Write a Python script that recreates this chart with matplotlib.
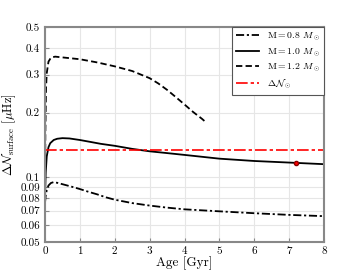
import matplotlib
matplotlib.use("Agg")
import matplotlib.pyplot as plt
import numpy as np
from matplotlib.ticker import FixedLocator, NullLocator, NullFormatter

plt.rcParams["font.family"] = "serif"
plt.rcParams["font.serif"] = ["cmr10", "DejaVu Serif"]
plt.rcParams["mathtext.fontset"] = "cm"
plt.rcParams["axes.unicode_minus"] = False

# M = 0.8 Msun (dash-dot, lower curve)
age_08 = [0.0, 0.02, 0.05, 0.1, 0.17, 0.24, 0.35, 0.5, 0.75, 1.0, 1.25, 1.5, 1.75, 2.0,
          2.5, 3.0, 3.5, 4.0, 5.0, 6.0, 7.0, 8.0]
dn_08 = [0.076, 0.082, 0.087, 0.0915, 0.094, 0.0948, 0.0942, 0.0928, 0.0905, 0.0881,
         0.0855, 0.0832, 0.0806, 0.0786, 0.0758, 0.0738, 0.0722, 0.0709, 0.0694, 0.068,
         0.0668, 0.0659]

# M = 1.0 Msun (solid)
age_10 = [0.0, 0.02, 0.05, 0.1, 0.15, 0.25, 0.35, 0.5, 0.7, 1.0, 1.3, 1.6, 2.0, 2.5,
          3.0, 3.5, 4.0, 5.0, 6.0, 7.0, 8.0]
dn_10 = [0.08, 0.105, 0.125, 0.138, 0.144, 0.149, 0.151, 0.152, 0.1515, 0.149, 0.146,
         0.143, 0.140, 0.1355, 0.132, 0.1295, 0.127, 0.122, 0.119, 0.117, 0.115]

# M = 1.2 Msun (dashed, upper curve)
age_12 = [0.0, 0.01, 0.03, 0.05, 0.1, 0.17, 0.29, 0.5, 1.0, 1.5, 2.0, 2.5, 3.0, 3.25,
          3.5, 3.75, 4.0, 4.25, 4.5, 4.6]
dn_12 = [0.08, 0.16, 0.26, 0.305, 0.345, 0.36, 0.364, 0.361, 0.354, 0.342, 0.328,
         0.312, 0.289, 0.273, 0.255, 0.236, 0.218, 0.201, 0.187, 0.181]

# solar value
sun_age = 7.2
sun_dn = 0.116
sun_level = 0.134

yticks = [0.05, 0.06, 0.07, 0.08, 0.09, 0.1, 0.2, 0.3, 0.4, 0.5]
yticklabels = ["0.05", "0.06", "0.07", "0.08", "0.09", "0.1", "0.2", "0.3", "0.4", "0.5"]

fig = plt.figure(figsize=(3.6, 2.7), dpi=100)
ax = fig.add_axes([0.125, 0.104, 0.775, 0.796])

ax.plot(age_08, dn_08, color="black", lw=1.3, dashes=(4.5, 1.5, 1.2, 1.5), label=r"M$=$0.8 $M_\odot$")
ax.plot(age_10, dn_10, color="black", lw=1.3, label=r"M$=$1.0 $M_\odot$")
ax.plot(age_12, dn_12, color="black", lw=1.3, dashes=(3.5, 1.8), label=r"M$=$1.2 $M_\odot$")
ax.axhline(sun_level, color="red", lw=1.2, dashes=(7, 1.8, 2, 1.8), label=r"$\Delta\mathcal{N}_\odot$")
ax.plot([sun_age], [sun_dn], "o", color="red", mec="darkred", ms=3)

ax.set_yscale("log")
ax.set_xlim(0, 8)
ax.set_ylim(0.05, 0.5)
ax.yaxis.set_major_locator(FixedLocator(yticks))
ax.set_yticklabels(yticklabels)
ax.yaxis.set_minor_locator(NullLocator())
ax.yaxis.set_minor_formatter(NullFormatter())
ax.set_xticks(range(0, 9))

ax.grid(True, color="#e6e6e6", lw=0.8)
ax.set_axisbelow(True)
for s in ax.spines.values():
    s.set_color("#888888")
    s.set_linewidth(1.5)
ax.tick_params(direction="in", labelsize=8, colors="#888888", labelcolor="black", length=3)

ax.set_xlabel("Age [Gyr]", fontsize=9.5, labelpad=0)
ax.set_ylabel(r"$\Delta\mathcal{N}_{\rm surface}$ [$\mu$Hz]", fontsize=9, labelpad=2)

leg = ax.legend(loc="upper right", fontsize=7, fancybox=False, framealpha=1,
                borderaxespad=0, handlelength=2.4, labelspacing=0.35)
leg.get_frame().set_edgecolor("#555555")
leg.get_frame().set_linewidth(0.8)

plt.savefig("out.png", dpi=100)
plt.close()
